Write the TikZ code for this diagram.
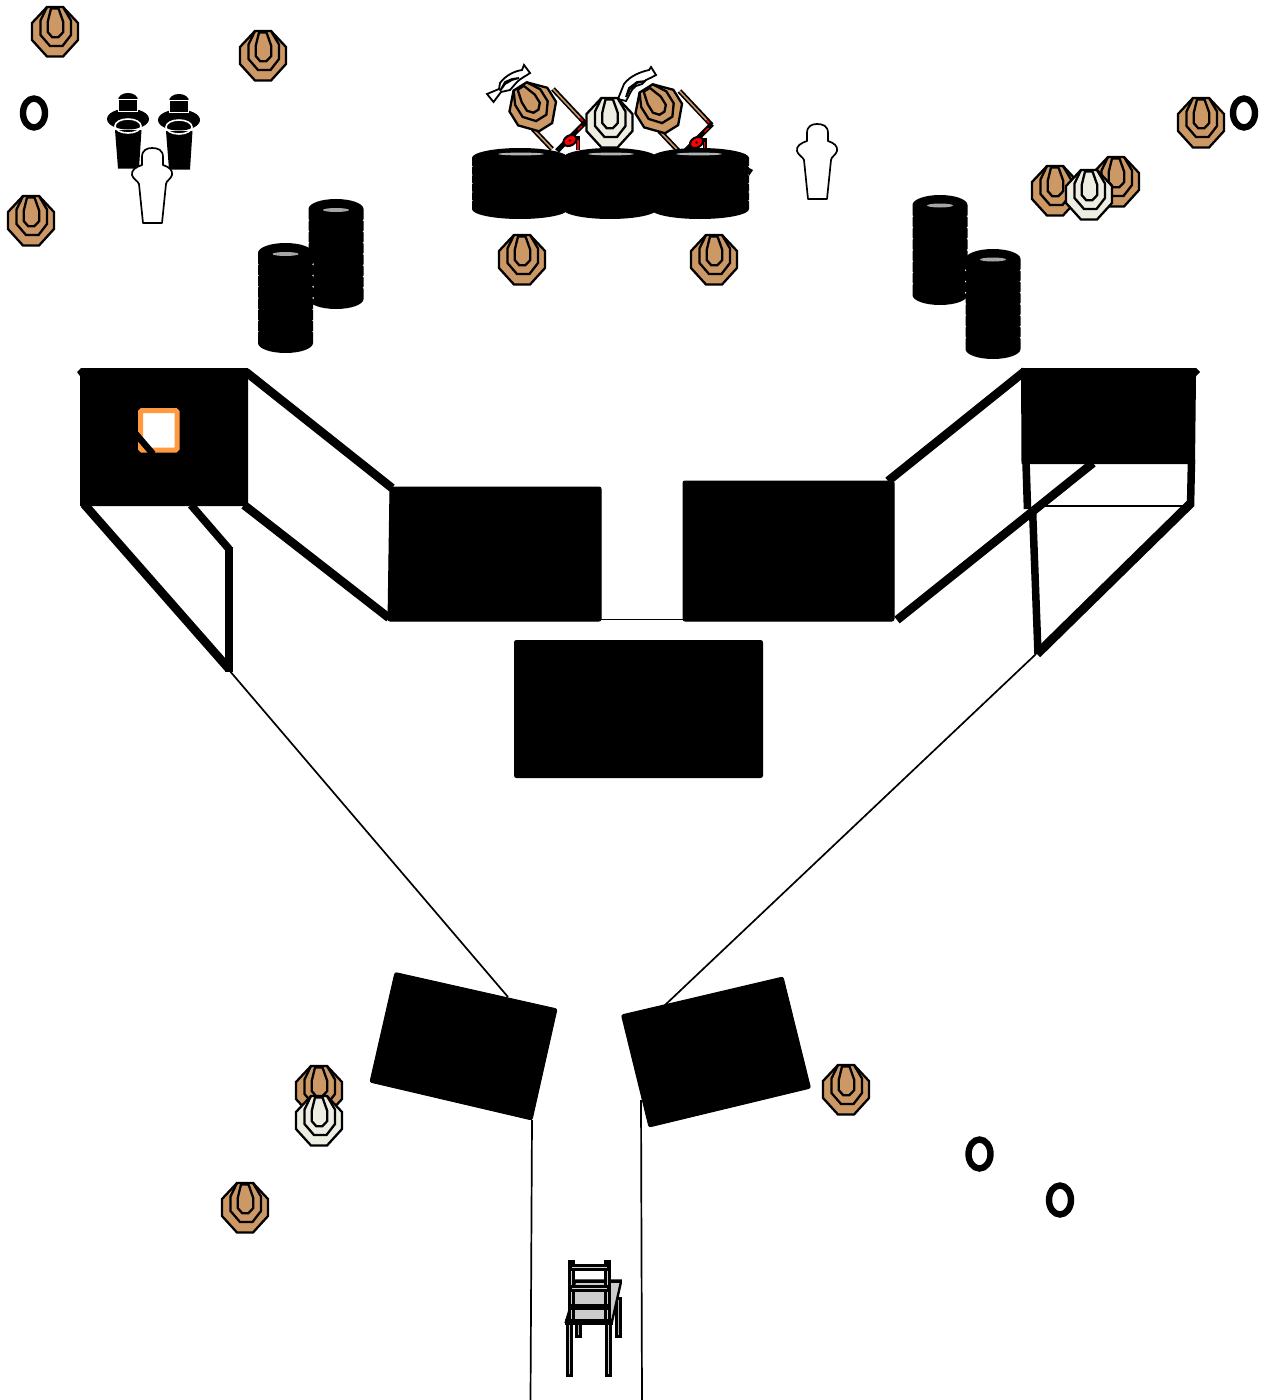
\documentclass[tikz,border=0pt]{standalone}
\definecolor{tan1}{HTML}{CC9966}
\definecolor{paper1}{HTML}{EEEDE2}
\definecolor{orange1}{HTML}{FF9A40}
\tikzset{
  wall/.style={line width=8.6pt,line cap=butt,line join=miter},
  thinline/.style={line width=1.7pt},
  blackblock/.style={fill=black,draw=black,line width=1pt,rounded corners=2pt},
  ring/.style={line width=2.3pt,line join=miter},
  oval/.style={draw=black,line width=6.4pt,fill=white},
  chairpart/.style={line width=3pt,draw=black,fill=black!18}
}
\newcommand{\tgt}[5][1]{%
  \begin{scope}[shift={(#2,#3)},rotate=#4,scale=#1]
    \draw[ring,fill=#5] (-8,-25)--(8,-25)--(23,-9)--(23,8)--(8,24.5)--(-8,24.5)--(-23,8)--(-23,-9)--cycle;
    \draw[ring] (-8,-25)--(-14.5,-11.5)--(-14.5,3)--(-5,14)--(7.5,14)--(16,3)--(16,-11.5)--(8,-25);
    \draw[ring] (-4,-23.5)--(-7.3,-10)--(-7.3,0)--(-2.7,5.3)--(3.3,5.3)--(8.3,0)--(8.3,-10)--(3.5,-23.5)--cycle;
  \end{scope}}
\newcommand{\barrelstack}[5]{% cx top bottom rx ribs
  \fill[black] (#1-#4,#2+10) -- (#1-#4,#3-10) arc[x radius=#4pt,y radius=10pt,start angle=180,end angle=360]
     -- (#1+#4,#2+10) arc[x radius=#4pt,y radius=10pt,start angle=0,end angle=180] -- cycle;
  \foreach \k in {1,...,#5}{
    \pgfmathsetmacro{\yy}{#2+10+(#3-#2-20)*\k/(#5+1)}
    \fill[white] (#1-#4-.5,\yy-1)--(#1-#4+.8,\yy)--(#1-#4-.5,\yy+1)--cycle;
    \fill[white] (#1+#4+.5,\yy-1)--(#1+#4-.8,\yy)--(#1+#4+.5,\yy+1)--cycle;
  }
}
\newcommand{\cupshape}[2]{%
  \begin{scope}[shift={(#1,#2)}]
    \fill[black] (-10,7) arc[x radius=10pt,y radius=7pt,start angle=180,end angle=0] -- cycle;
    \fill[black] (-13,37)--(13.5,37)--(11,75.5)--(-10,75.5)--cycle;
    \fill[black] (0,26) ellipse[x radius=21pt,y radius=10.5pt];
    \draw[white,line width=1.8pt,fill=black] (-9.5,6.5) rectangle (9.5,18.5);
    \draw[white,line width=1.6pt] (0,33) ellipse[x radius=13pt,y radius=7pt];
  \end{scope}}
\newcommand{\silh}[2]{%
  \begin{scope}[shift={(#1,#2)}]
    \draw[line width=1.7pt,fill=white,line join=round]
      (-10,17) -- (-10,9) .. controls (-10,2) and (-5,0) .. (0,0)
      .. controls (6,0) and (11,2) .. (11,9) -- (11,17)
      .. controls (17,19) and (21,22) .. (20,27)
      .. controls (19,31) and (14,33) .. (14,36)
      -- (10,75) -- (-9,75) -- (-13,36)
      .. controls (-14,33) and (-19,31) .. (-20,27)
      .. controls (-21,22) and (-16,19) .. (-10,17) -- cycle;
  \end{scope}}
\newcommand{\mech}[2]{%
  \begin{scope}[shift={(#1,#2)}]
    \draw[line width=5pt] (553,89)--(585,123);
    \draw[tan1,line width=1.6pt] (553,89)--(580,118);
    \draw[red,line width=1.6pt] (580,118)--(584,122);
    \draw[line width=5pt] (533,129)--(552,149);
    \draw[tan1,line width=1.6pt] (533,129)--(552,149);
    \draw[line width=5pt] (585.5,122)--(557,151);
    \draw[red,line width=1.2pt] (582,126)--(578,130);
    \draw[line width=4pt] (578,136)--(578,150);
    \draw[red,line width=1.3pt] (578,140)--(578,150);
    \draw[line width=2pt,fill=red,rotate around={30:(570,140.5)}] (570,140.5) ellipse[x radius=7pt,y radius=5pt];
    \fill[black] (570,140.5) circle(1.4pt);
  \end{scope}}
\begin{document}
\begin{tikzpicture}[x=1pt,y=-1pt]
\useasboundingbox (0,0) rectangle (1270,1400);
\fill[white] (0,0) rectangle (1270,1400);

% connector end points
\coordinate (lwall) at (229,670);
\coordinate (lblock) at (508,997);
\coordinate (rwall) at (1036,654);
\coordinate (rblock) at (664,1006);
\coordinate (lcorner) at (532,1120);
\coordinate (rcorner) at (641,1100);
\coordinate (lfoot) at (530.5,1400);
\coordinate (rfoot) at (642,1400);

% thin lines
\draw[thinline] (lwall)--(lblock);
\draw[thinline] (rwall)--(rblock);
\draw[thinline] (lcorner)--(lfoot);
\draw[thinline] (rcorner)--(rfoot);
\draw[thinline] (600,619.5)--(684,619.5);
\draw[line width=2.2pt] (1034,506)--(1190,506);

% central blocks
\path[blackblock] (390,487)--(601,487)--(601,621)--(388,621)--cycle;
\path[blackblock] (683,481)--(894,481)--(894,621)--(683,621)--cycle;
\path[blackblock] (514.5,640.5)--(762.5,640.5)--(762.5,777.5)--(514.5,777.5)--cycle;
\path[blackblock] (395,972.5)--(557,1009)--(532,1120)--(370,1082)--cycle;
\path[blackblock] (621.5,1015)--(783,977)--(810.5,1088)--(649,1127)--cycle;

% left wall
\fill[black] (77,372)--(81,368)--(248,368)--(248,506)--(80,506)--(80,376)--cycle;
\draw[wall] (246,372)--(392,488);
\draw[wall] (244,505)--(389,618);
\draw[wall] (84,504)--(229,669);
\draw[wall,line width=7.8pt] (191,505)--(229,549);
\draw[wall,line width=7.8pt] (229,547)--(229,672);
\draw[orange1,line width=5pt,fill=white,rounded corners=1.5pt] (140.5,410.5) rectangle (177,450);
\draw[black,line width=6.5pt] (135,433)--(153,454);

% right wall
\fill[black] (1021,368)--(1196,368)--(1200,372)--(1196,376)--(1195,464)--(1021.5,464)--cycle;
\draw[wall] (1025,371)--(888,481);
\draw[wall] (1093,463)--(897,620);
\draw[wall,line width=7.6pt] (1026,462)--(1027.5,509);
\draw[wall,line width=7.5pt] (1032.5,508)--(1038,654);
\draw[wall,line width=7.5pt] (1191.5,460)--(1190.5,506);
\draw[wall,line width=9pt] (1191,503)--(1037,654);

% ovals
\draw[oval] (34,113) ellipse[x radius=11pt,y radius=14.5pt];
\draw[oval] (1244,113) ellipse[x radius=11pt,y radius=14.5pt];
\draw[oval] (979.5,1154) ellipse[x radius=11pt,y radius=14.5pt];
\draw[oval] (1060,1200) ellipse[x radius=11pt,y radius=14.5pt];

% cups and figures
\cupshape{128}{93}
\cupshape{179}{94}
\silh{152}{148}
\silh{817}{124}

% barrels, sides
\barrelstack{336}{199}{309}{27.5}{7}
\fill[black!35] (336,210) ellipse[x radius=13pt,y radius=2pt];
\barrelstack{285.5}{243}{353}{27.5}{7}
\fill[black!35] (285.5,254) ellipse[x radius=13pt,y radius=2pt];
\barrelstack{940}{195}{305}{27.5}{7}
\fill[black!35] (940,205.5) ellipse[x radius=13pt,y radius=2pt];
\barrelstack{993}{249}{359}{27.5}{7}
\fill[black!35] (993,259.5) ellipse[x radius=13pt,y radius=2pt];

% curved arrows
\draw[line width=1.8pt,fill=white,line join=miter]
  (487,94)--(493.5,102)--(501,92)--(510,90)--(517,82) .. controls (521,78) and (526,76) .. (530,73)
  --(524,65)--(522,70) .. controls (515,71) and (506,75) .. (500,83) -- (499,89) -- cycle;
\draw[line width=1.8pt,line join=miter] (500,91)--(505,84)--(512,80)--(519,78)--(512,79)--(505,82)--cycle;
\draw[line width=1.8pt,fill=white,line join=miter]
  (618,99)--(626,101) .. controls (630,95) and (630,90) .. (636,86)
  --(642,84)--(646,80) .. controls (650,78) and (653,77) .. (656,75)
  --(651,67)--(649,70) .. controls (640,72) and (630,76) .. (624,84) -- cycle;
\draw[line width=1.8pt,line join=miter] (626,97)--(630,89)--(637,83)--(645,81)--(637,82)--(629,88)--cycle;

% sticks and mechanisms
\mech{0}{0}
\mech{126.5}{2}

% targets on the row
\tgt[.97]{533}{107}{32}{tan1}
\tgt[.97]{659}{109}{32}{tan1}
\tgt{609.5}{123}{0}{paper1}

% centre row of barrels
\barrelstack{700}{148}{219}{49}{5}
\barrelstack{610}{148}{219}{47}{5}
\barrelstack{520}{148}{219}{48}{5}
\fill[black] (510,160) rectangle (710,208);
\fill[black] (749,168)--(753,170)--(749,176)--cycle;
\fill[black!30] (521,154) ellipse[x radius=23pt,y radius=1.4pt];
\fill[black!30] (611,154) ellipse[x radius=23pt,y radius=1.4pt];
\fill[black!30] (699,154) ellipse[x radius=23pt,y radius=1.4pt];

% targets
\tgt{55}{32}{0}{tan1}
\tgt{263}{56}{0}{tan1}
\tgt{31}{221}{0}{tan1}
\tgt{522}{260}{0}{tan1}
\tgt{714}{260}{0}{tan1}
\tgt{1201}{123}{0}{tan1}
\tgt{1116}{182}{0}{tan1}
\tgt{1055}{191}{0}{tan1}
\tgt{1089}{195}{0}{paper1}
\tgt{319}{1091}{0}{tan1}
\tgt{319}{1121}{0}{paper1}
\tgt{846}{1090}{0}{tan1}
\tgt{245}{1208}{0}{tan1}

% chair and table
\begin{scope}[shift={(530,1240)},x=.3333pt,y=-.3333pt]
  % table
  \draw[chairpart,fill=black!30] (259,175) rectangle (272,288);
  \draw[chairpart,fill=black!30] (138,250) rectangle (150,288);
  \draw[chairpart,fill=black!20,line width=2.4pt] (135,122)--(272,122)--(272,130)--(246,245)--(108,245)--(120,205)--cycle;
  \fill[black] (138,120) rectangle (272,130);
  % seat
  \fill[black] (106,238)--(248,238)--(248,256)--(106,256)--cycle;
  % front legs
  \draw[chairpart] (113,250) rectangle (125,405);
  \draw[chairpart] (230,250) rectangle (242,405);
  % back posts
  \draw[chairpart] (119,65) rectangle (131,240);
  \draw[chairpart] (227,65) rectangle (239,240);
  \fill[black] (115,65) rectangle (135,78);
  \fill[black] (222,65) rectangle (242,78);
  % rails
  \draw[chairpart] (122,77) rectangle (235,88);
  \draw[chairpart] (122,139) rectangle (235,150);
  \draw[chairpart] (122,195) rectangle (235,206);
\end{scope}
\end{tikzpicture}
\end{document}
